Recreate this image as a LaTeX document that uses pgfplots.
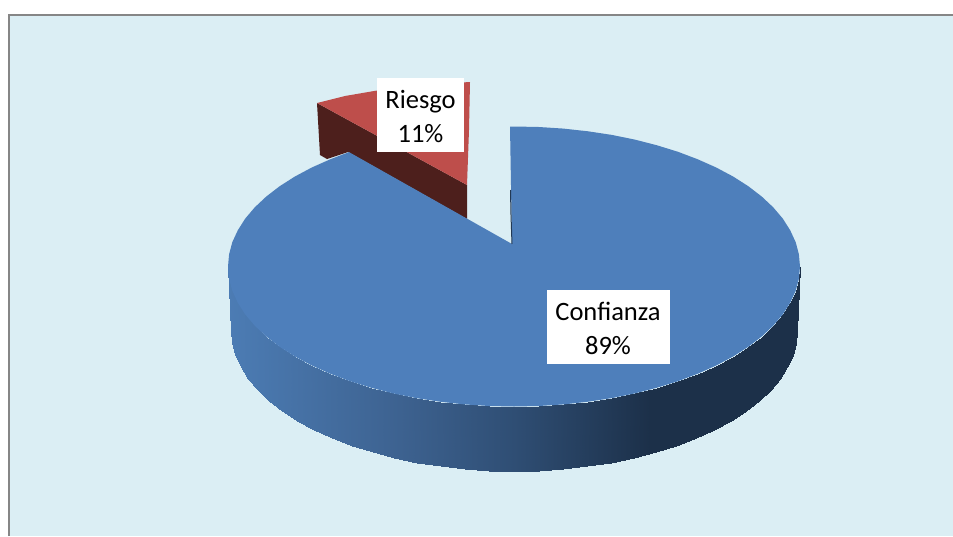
\documentclass[border=0pt]{standalone}
\usepackage{pgfplots}
\pgfplotsset{compat=1.18}
\usepackage{fontspec}
\setmainfont{Carlito}
\definecolor{bg}{RGB}{219,238,244}
\definecolor{frame}{RGB}{134,134,134}
\definecolor{blue1}{RGB}{78,127,187}
\definecolor{red1}{RGB}{190,78,75}
\definecolor{red2}{RGB}{77,31,28}
\begin{document}
\begin{tikzpicture}
\begin{axis}[scale only axis,width=953pt,height=536pt,xmin=0,xmax=953,ymin=0,ymax=536,y dir=reverse,
  axis lines=none,clip=true,
  colormap={side}{rgb255(0pt)=(76,124,180); rgb255(172pt)=(61,98,144); rgb255(286pt)=(47,78,116); rgb255(422pt)=(28,48,73); rgb255(572pt)=(28,48,73)}]
% panel
\addplot[fill=white,draw=none] coordinates {(0,0)(953,0)(953,536)(0,536)} --cycle;
\addplot[fill=bg,draw=none] coordinates {(8.5,14.5)(953,14.5)(953,536)(8.5,536)} --cycle;
\addplot[draw=frame,line width=2pt] coordinates {(8.5,536)(8.5,14.5)(953,14.5)};
% risk slice side
\addplot[fill=red2,draw=none] coordinates {(317,103)(467,185)(467,219)(348,152)(327,159)(320,155)} --cycle;
% risk slice top
\addplot[fill=red1,draw=none] coordinates {(317,103)(345,96)(377,90.5)(420,85)(470,82)(469,130)(467,185)} --cycle;
% trust slice side
\addplot[surf,shader=interp,mesh/rows=2,mesh/cols=37,point meta=x] table {
800 266.5
798.9 278.7
795.7 290.8
790.2 302.7
782.8 314.4
773.2 325.7
761.7 336.5
748.3 346.8
733.1 356.5
716.2 365.5
697.8 373.7
678 381.2
657 387.7
634.9 393.4
611.8 398.1
588 401.7
563.6 404.4
538.9 406
514 406.5
489.1 406
464.4 404.4
440 401.7
416.2 398.1
393.1 393.4
371 387.7
350 381.2
330.2 373.7
311.8 365.5
294.9 356.5
279.7 346.8
266.3 336.5
254.8 325.7
245.2 314.4
237.8 302.7
232.3 290.8
229.1 278.7
228 266.5
797 331
795.9 343.2
792.7 355.3
787.3 367.2
779.9 378.9
770.5 390.2
759.1 401
745.8 411.3
730.8 421
714.1 430
695.9 438.2
676.3 445.7
655.5 452.2
633.6 457.9
610.8 462.6
587.2 466.2
563.1 468.9
538.7 470.5
514 471
489.3 470.5
464.9 468.9
440.8 466.2
417.2 462.6
394.4 457.9
372.5 452.2
351.7 445.7
332.1 438.2
313.9 430
297.2 421
282.2 411.3
268.9 401
257.5 390.2
248.1 378.9
240.7 367.2
235.3 355.3
232.1 343.2
231 331
};
% trust slice top
\addplot[fill=blue1,draw=none] coordinates {(510,126.5)(514,126.5)(538.9,127)(563.6,128.6)(588,131.3)(611.8,134.9)(634.9,139.6)(657,145.3)(678,151.8)(697.8,159.3)(716.2,167.5)(733.1,176.5)(748.3,186.2)(761.7,196.5)(773.2,207.3)(782.8,218.6)(790.2,230.3)(795.7,242.2)(798.9,254.3)(800,266.5)(798.9,278.7)(795.7,290.8)(790.2,302.7)(782.8,314.4)(773.2,325.7)(761.7,336.5)(748.3,346.8)(733.1,356.5)(716.2,365.5)(697.8,373.7)(678,381.2)(657,387.7)(634.9,393.4)(611.8,398.1)(588,401.7)(563.6,404.4)(538.9,406)(514,406.5)(489.1,406)(464.4,404.4)(440,401.7)(416.2,398.1)(393.1,393.4)(371,387.7)(350,381.2)(330.2,373.7)(311.8,365.5)(294.9,356.5)(279.7,346.8)(266.3,336.5)(254.8,325.7)(245.2,314.4)(237.8,302.7)(232.3,290.8)(229.1,278.7)(228,266.5)(229.1,254.3)(232.3,242.2)(237.8,230.3)(245.2,218.6)(254.8,207.3)(266.3,196.5)(279.7,186.2)(294.9,176.5)(311.8,167.5)(330.2,159.3)(349,152.1)(512,244)} --cycle;
% inner cut edge
\addplot[draw=blue1!45!black,line width=1pt] coordinates {(510.5,190)(511,215)(512,244)};
% label boxes
\addplot[fill=white,draw=none] coordinates {(377,78)(464,78)(464,152)(377,152)} --cycle;
\addplot[fill=white,draw=none] coordinates {(547,290)(670,290)(670,364)(547,364)} --cycle;
\node[align=center,font=\fontsize{26.5}{34}\selectfont,text=black] at (axis cs:420.5,116) {Riesgo\\11\%};
\node[align=center,font=\fontsize{26.5}{34}\selectfont,text=black] at (axis cs:608,328) {Confianza\\89\%};
\end{axis}
\end{tikzpicture}
\end{document}
